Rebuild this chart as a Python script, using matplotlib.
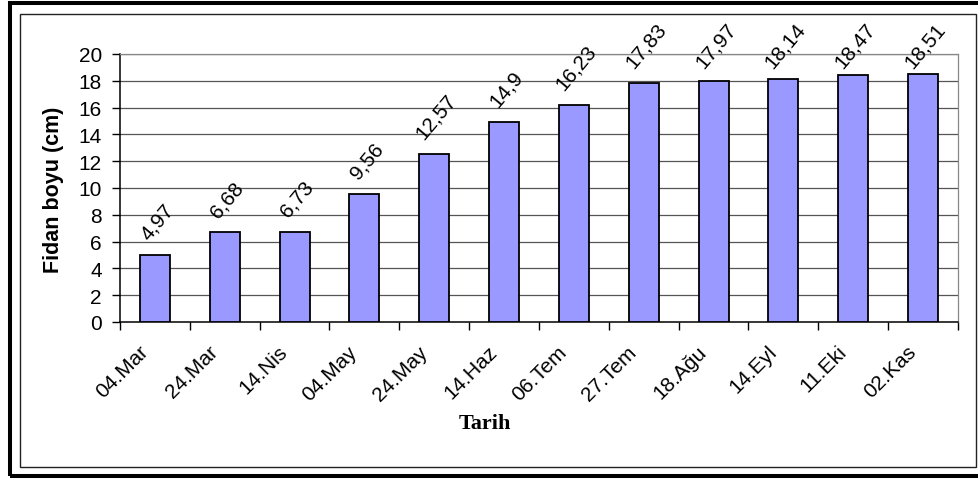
import matplotlib
matplotlib.use("Agg")
import matplotlib.pyplot as plt
from matplotlib.patches import Rectangle
from matplotlib.transforms import ScaledTranslation
import numpy as np

categories = ["04.Mar", "24.Mar", "14.Nis", "04.May", "24.May", "14.Haz",
              "06.Tem", "27.Tem", "18.Ağu", "14.Eyl", "11.Eki", "02.Kas"]
values = [4.97, 6.68, 6.73, 9.56, 12.57, 14.9, 16.23, 17.83, 17.97, 18.14, 18.47, 18.51]
value_labels = ["4,97", "6,68", "6,73", "9,56", "12,57", "14,9", "16,23", "17,83",
                "17,97", "18,14", "18,47", "18,51"]
yticks = [0, 2, 4, 6, 8, 10, 12, 14, 16, 18, 20]

W, H = 979, 481
plt.rcParams['font.family'] = ['Liberation Sans', 'DejaVu Sans']
fig = plt.figure(figsize=(W / 100, H / 100), dpi=100)

def fx(px):
    return px / W

def fy(py):
    return 1 - py / H

# outer thick frame
fig.patches.append(Rectangle((fx(10), fy(477)), fx(990) - fx(10), fy(3.5) - fy(477),
                             transform=fig.transFigure, fill=False, edgecolor='black',
                             linewidth=2.9, zorder=0))
# inner frame
fig.patches.append(Rectangle((fx(20.5), fy(468)), fx(976) - fx(20.5), fy(15) - fy(468),
                             transform=fig.transFigure, fill=False, edgecolor='#222222',
                             linewidth=1.0, zorder=0))

ax = fig.add_axes([fx(120), fy(323), fx(958) - fx(120), fy(55) - fy(323)])
x = np.arange(len(categories))
ax.bar(x, values, width=0.43, color='#9999FF', edgecolor='black', linewidth=1.3, zorder=3)
ax.set_xlim(-0.5, len(categories) - 0.5)
ax.set_ylim(0, 20)
ax.set_yticks(yticks)
ax.set_yticklabels([str(v) for v in yticks], fontsize=15)
for v in yticks[1:]:
    ax.axhline(v, color='#555555', linewidth=0.9, zorder=1)

ax.set_xticks(x)
ax.set_xticklabels(categories, rotation=45, ha='right', va='center',
                   rotation_mode='anchor', fontsize=15)
ax.tick_params(axis='x', which='major', length=0, pad=19)
shift = ScaledTranslation(-10 / 100, 0, fig.dpi_scale_trans)
for lab in ax.get_xticklabels():
    lab.set_transform(lab.get_transform() + shift)
ax.set_xticks(np.arange(-0.5, len(categories), 1), minor=True)
ax.tick_params(axis='x', which='minor', length=6, width=1, direction='out')
ax.tick_params(axis='y', length=6, width=1, direction='out', pad=7)

for s in ['top', 'right']:
    ax.spines[s].set_color('#888888')
    ax.spines[s].set_linewidth(0.9)
for s in ['left', 'bottom']:
    ax.spines[s].set_color('black')
    ax.spines[s].set_linewidth(1.1)

# value labels: bbox bottom 12 px above bar top, but never above y=72 px (from top)
for xi, v, lab in zip(x, values, value_labels):
    top_disp = ax.transData.transform((xi, v))[1]
    top_px = H - top_disp
    bottom_px = max(top_px - 12, 72)
    off = top_px - bottom_px
    ax.annotate(lab, (xi, v), xytext=(2, off), textcoords='offset pixels',
                rotation=50, ha='center', va='bottom', fontsize=15, zorder=4,
                annotation_clip=False)

fig.text(fx(54), fy(190), "Fidan boyu (cm)", rotation=90, ha='center', va='center',
         fontsize=15.5, fontweight='bold')
fig.text(fx(485), fy(424), "Tarih", ha='center', va='center',
         fontsize=16, fontweight='bold', family=['Liberation Serif', 'DejaVu Serif'])

fig.savefig("out.png", dpi=100)
